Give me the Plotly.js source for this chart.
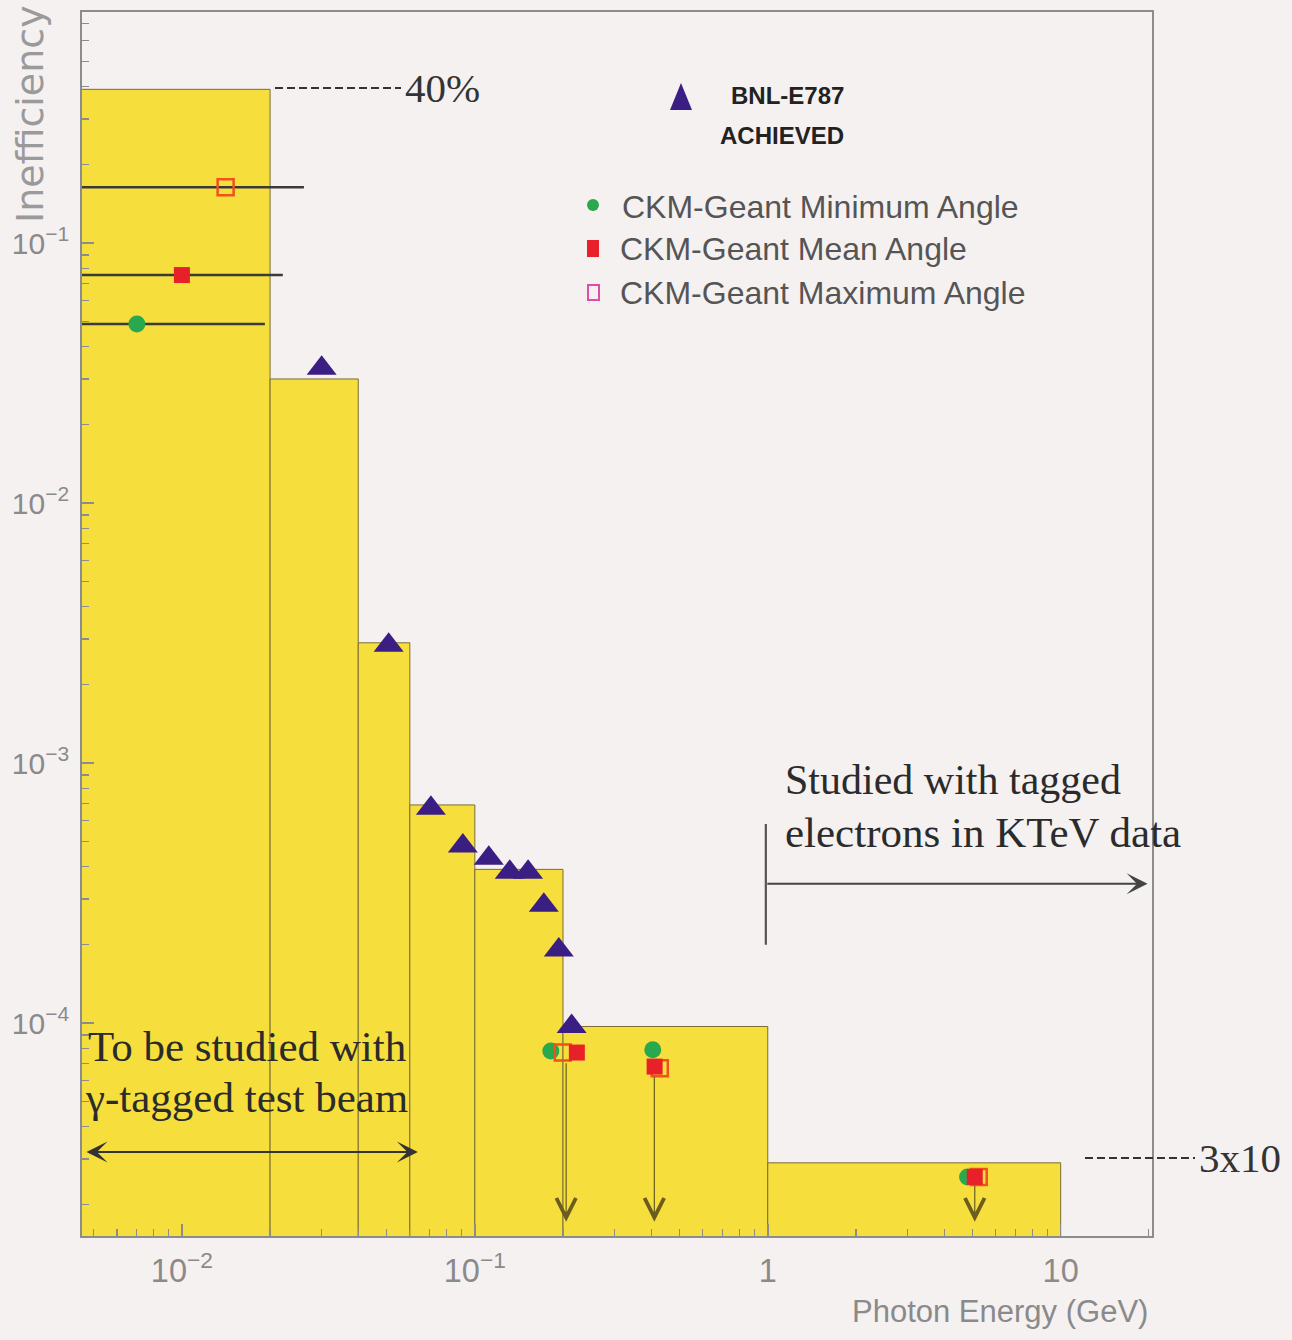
<!DOCTYPE html>
<html><head><meta charset="utf-8">
<script src="https://cdn.plot.ly/plotly-3.0.1.min.js"></script>
<style>html,body{margin:0;padding:0;background:#f5f1f1;} #chart{width:1292px;height:1340px;}</style>
</head><body><div id="chart"></div>
<script>
// ---------- data ----------
// inefficiency budget per photon-energy bin (GeV)
const binEdges   = [0.004, 0.02, 0.04, 0.06, 0.1, 0.2, 1, 10];
const binHeights = [0.39, 0.03, 0.0029, 0.00069, 0.00039, 0.000097, 0.000029];
const binFloor   = 1e-6;

// BNL-E787 achieved
const e787X = [0.030, 0.0508, 0.0708, 0.091, 0.1116, 0.1316, 0.152, 0.172, 0.1935, 0.214];
const e787Y = [0.033, 0.00284, 0.00067, 0.00048, 0.00043, 0.00038, 0.00038, 0.000284, 0.000191, 0.000097];

// CKM-Geant simulations
const minAngleX  = [0.00702, 0.1817, 0.405, 4.81];
const minAngleY  = [0.0488, 7.8e-5, 7.9e-5, 2.56e-5];
const meanAngleX = [0.0100, 0.223, 0.411, 5.09];
const meanAngleY = [0.0753, 7.7e-5, 6.8e-5, 2.56e-5];
const maxAngleX  = [0.0141, 0.1997, 0.428, 5.25];
const maxAngleY  = [0.164, 7.7e-5, 6.7e-5, 2.56e-5];

// energy spans of the lowest-energy simulated points
const spanLo       = 0.004;
const spanHiMin    = 0.0192;
const spanHiMean   = 0.0221;
const spanHiMax    = 0.0261;

// upper limits (arrows pointing down)
const limitX    = [0.205, 0.41, 5.09];
const limitFrom = [7.1e-5, 6.3e-5, 2.4e-5];
const limitTo   = 1.72e-5;

// ---------- styles ----------
const YELLOW = '#f6df3c';
const EDGE = '#7a6e34';
const PURPLE = '#3a1e84';
const GREEN = '#2aa84e';
const RED = '#e8202a';
const ORANGE = '#f0521e';
const PINK = '#e04ca8';
const GRAY = '#8a8a8a';
const SERIF = 'Liberation Serif, Times New Roman, serif';
const SANS = 'Liberation Sans, Arial, sans-serif';
const L = Math.log10;

const traces = [];
for (let i = 0; i < binHeights.length; i++) {
  const a = binEdges[i], b = binEdges[i + 1], h = binHeights[i];
  traces.push({
    type: 'scatter', mode: 'lines', fill: 'toself', fillcolor: YELLOW,
    x: [a, a, b, b, a], y: [binFloor, h, h, binFloor, binFloor],
    line: {color: EDGE, width: 1}, hoverinfo: 'skip'
  });
}
[[spanHiMin, minAngleY[0]], [spanHiMean, meanAngleY[0]], [spanHiMax, maxAngleY[0]]].forEach(([hi, yv]) => {
  traces.push({type: 'scatter', mode: 'lines', x: [spanLo, hi], y: [yv, yv],
    line: {color: '#3a3a3a', width: 2.5}, hoverinfo: 'skip'});
});
traces.push({type: 'scatter', mode: 'markers', x: minAngleX, y: minAngleY,
  marker: {symbol: 'circle', size: 17, color: GREEN}});
traces.push({type: 'scatter', mode: 'markers', x: maxAngleX, y: maxAngleY,
  marker: {symbol: 'square-open', size: 16, color: ORANGE, line: {width: 2.5, color: ORANGE}}});
traces.push({type: 'scatter', mode: 'markers', x: meanAngleX, y: meanAngleY,
  marker: {symbol: 'square', size: 16, color: RED}});
traces.push({type: 'scatter', mode: 'markers', x: e787X, y: e787Y,
  marker: {symbol: 'triangle-up', size: 26, color: PURPLE}});

// helpers: pixel -> paper (plot area 82..1152 x, 12..1236 y)
const px = v => (v - 82) / 1070;
const py = v => (1236 - v) / 1224;

const annotations = [];
// upper-limit arrows
limitX.forEach((xv, i) => {
  annotations.push({xref: 'x', yref: 'y', axref: 'x', ayref: 'y',
    x: L(xv), y: L(limitTo), ax: L(xv), ay: L(limitFrom[i]), text: '',
    showarrow: true, arrowhead: 5, arrowsize: 3.2, arrowwidth: 1.2, arrowcolor: '#6b5d1e'});
});
// "To be studied" double arrow
annotations.push({xref: 'x', yref: 'y', axref: 'x', ayref: 'y',
  x: L(0.0639), y: L(3.19e-5), ax: L(0.00467), ay: L(3.19e-5), text: '',
  showarrow: true, arrowside: 'end+start', arrowhead: 3, startarrowhead: 3,
  arrowsize: 1.75, startarrowsize: 1.75, arrowwidth: 2, arrowcolor: '#333'});
// KTeV arrow + bar
annotations.push({xref: 'x', yref: 'y', axref: 'x', ayref: 'y',
  x: L(19.8), y: L(3.43e-4), ax: L(0.985), ay: L(3.43e-4), text: '',
  showarrow: true, arrowhead: 3, arrowsize: 1.75, arrowwidth: 2, arrowcolor: '#444'});
annotations.push({xref: 'x', yref: 'y', axref: 'x', ayref: 'y',
  x: L(0.985), y: L(2.0e-4), ax: L(0.985), ay: L(5.9e-4), text: '',
  showarrow: true, arrowhead: 0, arrowwidth: 2.2, arrowcolor: '#555'});

function txt(text, x, y, size, color, family, xanchor, extra) {
  return Object.assign({xref: 'paper', yref: 'paper', x: x, y: y, text: text, showarrow: false,
    xanchor: xanchor || 'left', yanchor: 'middle', font: {size: size, color: color, family: family}}, extra || {});
}
annotations.push(txt('40%', px(403), py(88), 41, '#333', SERIF));
annotations.push(txt('3x10', px(1197), py(1158), 41, '#333', SERIF));
annotations.push(txt('To be studied with', px(86), py(1046), 43, '#2b2b2b', SERIF));
annotations.push(txt('γ-tagged test beam', px(83), py(1097), 43, '#2b2b2b', SERIF));
annotations.push(txt('Studied with tagged', px(783), py(780), 42, '#2b2b2b', SERIF));
annotations.push(txt('electrons in KTeV data', px(783), py(832), 43, '#2b2b2b', SERIF));
annotations.push(txt('<b>BNL-E787</b>', px(787), py(96), 24, '#222', SANS, 'center'));
annotations.push(txt('<b>ACHIEVED</b>', px(782), py(136), 24, '#222', SANS, 'center'));
annotations.push(txt('CKM-Geant Minimum Angle', px(620), py(207), 32, '#555', SANS));
annotations.push(txt('CKM-Geant Mean Angle', px(618), py(249), 32, '#555', SANS));
annotations.push(txt('CKM-Geant Maximum Angle', px(618), py(293), 32, '#555', SANS));
annotations.push(txt('Photon Energy (GeV)', px(1150), py(1311), 31, GRAY, SANS, 'right'));
annotations.push(txt('Inefficiency', px(30), py(114), 38, '#9a9a9a', 'DejaVu Sans, sans-serif', 'center', {textangle: -90}));

const shapes = [
  {type: 'line', xref: 'paper', yref: 'paper', x0: px(275), x1: px(401), y0: py(88), y1: py(88),
   line: {color: '#333', width: 2, dash: '8px,4px'}},
  {type: 'line', xref: 'paper', yref: 'paper', x0: px(1085), x1: px(1195), y0: py(1158), y1: py(1158),
   line: {color: '#333', width: 2, dash: '8px,4px'}},
  // legend icons
  {type: 'path', xref: 'paper', yref: 'paper',
   path: `M${px(670)},${py(110)} L${px(692)},${py(110)} L${px(681)},${py(83)} Z`,
   fillcolor: PURPLE, line: {width: 0}},
  {type: 'circle', xref: 'paper', yref: 'paper', x0: px(587), x1: px(599), y0: py(211), y1: py(199),
   fillcolor: GREEN, line: {width: 0}},
  {type: 'rect', xref: 'paper', yref: 'paper', x0: px(587), x1: px(599), y0: py(257), y1: py(240),
   fillcolor: RED, line: {width: 0}},
  {type: 'rect', xref: 'paper', yref: 'paper', x0: px(588), x1: px(599), y0: py(300), y1: py(285),
   fillcolor: 'rgba(0,0,0,0)', line: {width: 2, color: PINK}}
];

const axisCommon = {
  type: 'log', dtick: 1, exponentformat: 'power', showexponent: 'all',
  showgrid: false, zeroline: false, showline: true, linecolor: '#8c8c8c', linewidth: 2, mirror: true,
  ticks: 'inside', ticklen: 12, tickcolor: '#8c8c8c', tickwidth: 1.5,
  minor: {ticks: 'inside', ticklen: 7, tickcolor: '#8c8c8c', tickwidth: 1.2, dtick: 'D1', showgrid: false},
  tickfont: {size: 26, color: GRAY, family: SANS}, ticklabelstandoff: 6
};

const layout = {
  width: 1292, height: 1340,
  margin: {l: 82, r: 140, t: 12, b: 104},
  paper_bgcolor: '#f5f1f1', plot_bgcolor: '#f5f1f1',
  showlegend: false,
  font: {family: SANS, color: GRAY},
  xaxis: Object.assign({}, axisCommon, {range: [L(0.00456), L(20.5)]}),
  yaxis: Object.assign({}, axisCommon, {range: [-4.819, -0.1115], ticklabelstandoff: 6,
    tickfont: {size: 24, color: GRAY, family: SANS}}),
  annotations: annotations,
  shapes: shapes
};

Plotly.newPlot('chart', traces, layout, {displayModeBar: false, staticPlot: true});
</script>
</body></html>
